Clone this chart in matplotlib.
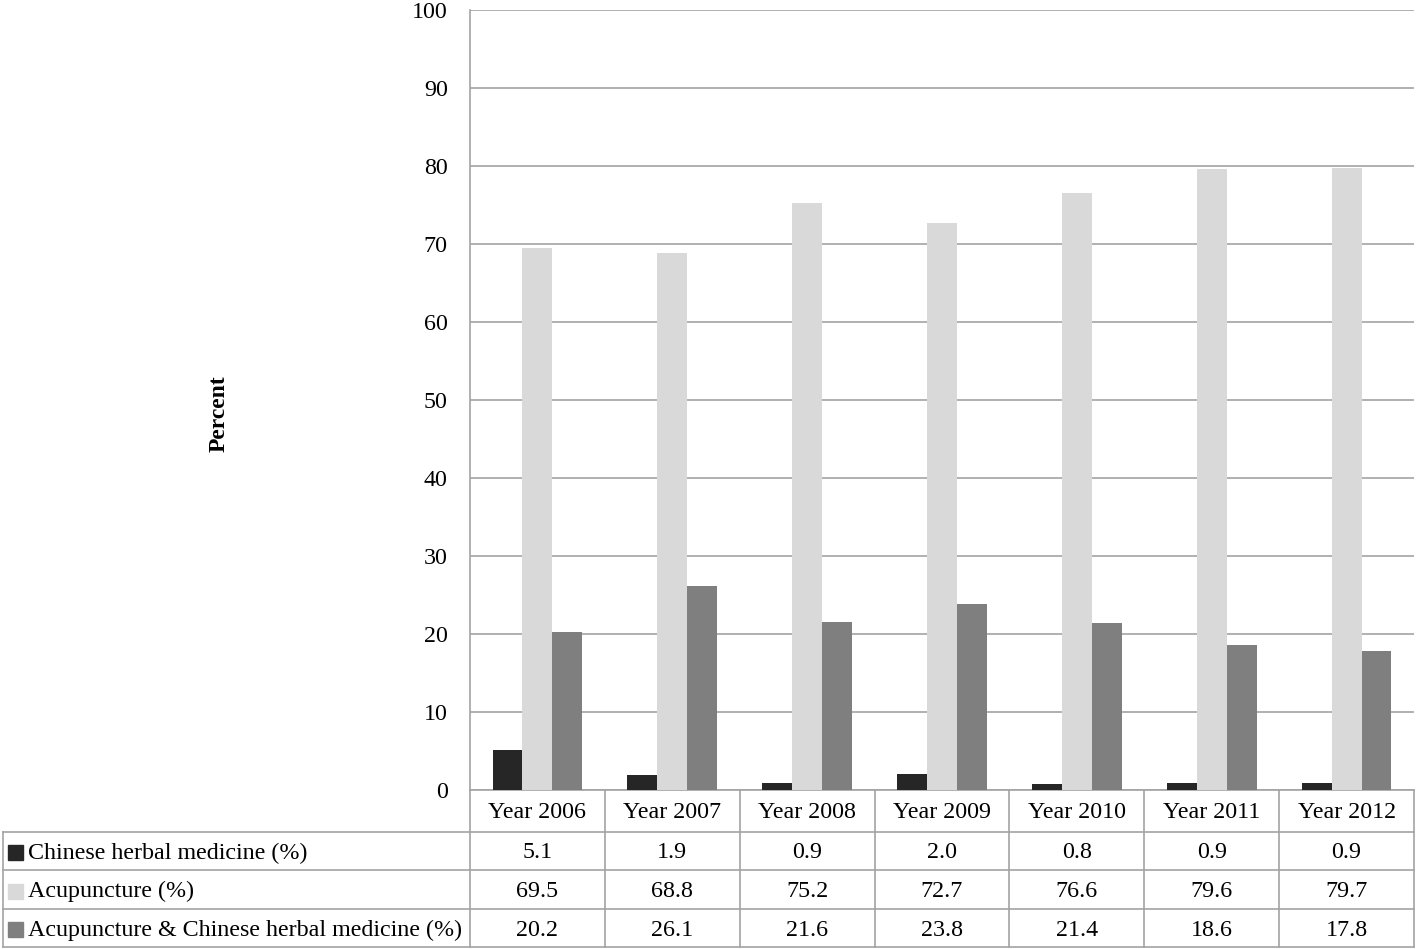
import matplotlib.pyplot as plt
from matplotlib.patches import Rectangle
import numpy as np

plt.rcParams['font.family'] = ['Liberation Serif', 'DejaVu Serif']

# data
years = ['Year 2006', 'Year 2007', 'Year 2008', 'Year 2009', 'Year 2010', 'Year 2011', 'Year 2012']
series_names = ['Chinese herbal medicine (%)', 'Acupuncture (%)',
                'Acupuncture & Chinese herbal medicine (%)']
herbal = [5.1, 1.9, 0.9, 2.0, 0.8, 0.9, 0.9]
acup = [69.5, 68.8, 75.2, 72.7, 76.6, 79.6, 79.7]
both = [20.2, 26.1, 21.6, 23.8, 21.4, 18.6, 17.8]
colors = ['#262626', '#d9d9d9', '#7f7f7f']
line_col = '#a3a3a3'
fs = 17.3

W, H = 1418, 949
fig = plt.figure(figsize=(W / 100, H / 100), dpi=100)

# plot box in pixels (measured from top)
px0, px1, py0, py1 = 470, 1414, 10, 790
ax = fig.add_axes([px0 / W, 1 - py1 / H, (px1 - px0) / W, (py1 - py0) / H])

x = np.arange(len(years))
bw = 0.222
for i, vals in enumerate([herbal, acup, both]):
    ax.bar(x + (i - 1) * bw, vals, width=bw, color=colors[i], zorder=3)

ax.set_xlim(-0.5, len(years) - 0.5)
ax.set_ylim(0, 100)
ax.set_yticks(range(0, 101, 10))
ax.set_xticks([])
ax.yaxis.grid(True, color=line_col, lw=1.2)
ax.set_axisbelow(True)
ax.tick_params(axis='y', length=0, pad=16, labelsize=fs)
for s in ['top', 'right']:
    ax.spines[s].set_visible(False)
ax.spines['left'].set_color(line_col)
ax.spines['bottom'].set_color(line_col)
ax.spines['left'].set_linewidth(1.2)
ax.spines['bottom'].set_linewidth(1.2)

fig.text(219 / W, 1 - 414 / H, 'Percent', rotation=90, fontweight='bold',
         fontsize=17, ha='center', va='center')

# data table drawn below the axes
ov = fig.add_axes([0, 0, 1, 1], zorder=-1)
ov.set_xlim(0, W)
ov.set_ylim(H, 0)
ov.axis('off')

rows = [790, 832, 870, 909, 947]
cols = [px0 + i * (px1 - px0) / len(years) for i in range(len(years) + 1)]
tleft = 3

for y in rows[1:]:
    ov.plot([tleft, px1], [y, y], color=line_col, lw=1.2)
ov.plot([tleft, tleft], [rows[1], rows[-1]], color=line_col, lw=1.2)
for c in cols:
    ov.plot([c, c], [rows[0], rows[-1]], color=line_col, lw=1.2)

dy = 2
for j, yr in enumerate(years):
    xc = (cols[j] + cols[j + 1]) / 2
    ov.text(xc, (rows[0] + rows[1]) / 2 + dy, yr, ha='center', va='center', fontsize=fs)
    for i, vals in enumerate([herbal, acup, both]):
        yc = (rows[i + 1] + rows[i + 2]) / 2
        ov.text(xc, yc + dy, f'{vals[j]:.1f}', ha='center', va='center', fontsize=fs)

for i, name in enumerate(series_names):
    yc = (rows[i + 1] + rows[i + 2]) / 2
    ov.add_patch(Rectangle((8, yc - 6), 15, 15, color=colors[i]))
    ov.text(28, yc + dy, name, ha='left', va='center', fontsize=fs)

plt.savefig('out.png', dpi=100)
